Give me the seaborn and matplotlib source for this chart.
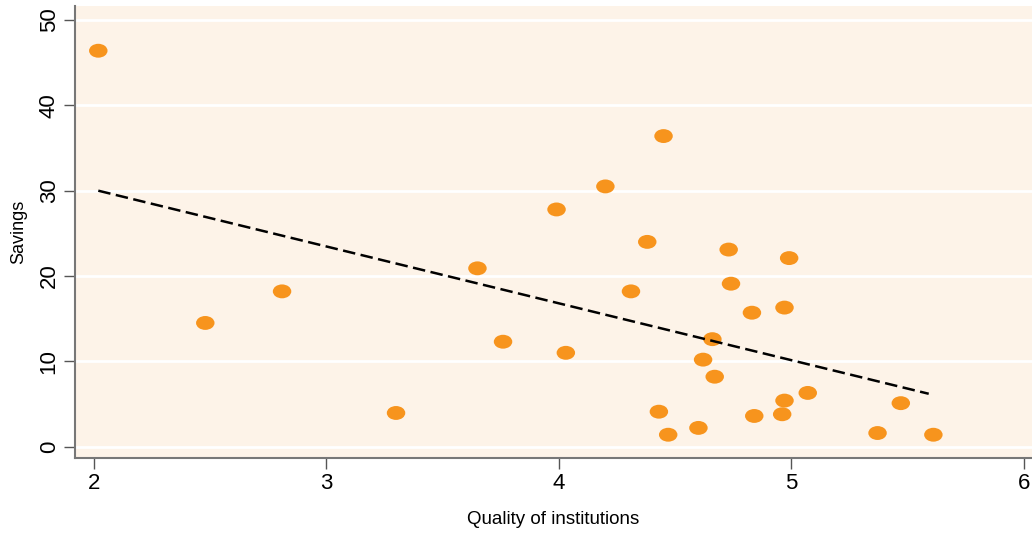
import numpy as np
import pandas as pd
import matplotlib
matplotlib.use("Agg")
import matplotlib.pyplot as plt
import seaborn as sns
from matplotlib.markers import MarkerStyle
from matplotlib.transforms import Affine2D

# data
quality = [2.02, 2.48, 2.81, 3.30, 3.65, 3.76, 3.99, 4.03, 4.20, 4.45,
           4.38, 4.31, 4.43, 4.47, 4.60, 4.73, 4.74, 4.83, 4.66, 4.62,
           4.67, 4.84, 4.96, 4.97, 4.97, 4.99, 5.07, 5.37, 5.47, 5.61]
savings = [46.4, 14.5, 18.2, 3.95, 20.9, 12.3, 27.8, 11.0, 30.5, 36.4,
           24.0, 18.2, 4.1, 1.4, 2.2, 23.1, 19.1, 15.7, 12.6, 10.2,
           8.2, 3.6, 3.8, 5.4, 16.3, 22.1, 6.3, 1.6, 5.1, 1.4]

# fitted line end points
fit_x = [2.02, 5.59]
fit_y = [30.0, 6.2]

df = pd.DataFrame({"quality": quality, "savings": savings})
fit = pd.DataFrame({"quality": fit_x, "savings": fit_y})

sns.set_style("white")
plt.rcParams['font.family'] = ['Liberation Sans', 'DejaVu Sans']

fig = plt.figure(figsize=(10.32, 5.33), dpi=100)
ax = fig.add_axes([0.0727, 0.1413, 0.9273, 0.8474])
ax.set_facecolor("#FDF3E8")

for v in [0, 10, 20, 30, 40, 50]:
    ax.axhline(v, color="white", lw=2, zorder=0)

oval = MarkerStyle("o", transform=Affine2D().scale(1.33, 1.0))
sns.scatterplot(data=df, x="quality", y="savings", ax=ax, marker=oval,
                s=100, color="#F7941D", edgecolor="none", zorder=3)
sns.lineplot(data=fit, x="quality", y="savings", ax=ax, color="black",
             lw=1.8, zorder=4)
ax.lines[-1].set_dashes([5, 2.2])

ax.set_xlim(1.92, 6.034)
ax.set_ylim(-1.29, 51.64)
ax.set_xticks([2, 3, 4, 5, 6])
ax.set_yticks([0, 10, 20, 30, 40, 50])
ax.tick_params(axis="y", labelrotation=90, length=8, width=1, color="#555555",
               labelsize=16, labelcolor="black", pad=3, left=True)
ax.tick_params(axis="x", length=8, width=1, color="#555555", labelsize=16,
               labelcolor="black", pad=3, bottom=True)
for lab in ax.get_yticklabels():
    lab.set_va("center")

ax.set_xlabel("Quality of institutions", fontsize=13.5, labelpad=12, color="black")
ax.set_ylabel("Savings", fontsize=13, labelpad=8, color="black")

for s in ["top", "right"]:
    ax.spines[s].set_visible(False)
for s in ["left", "bottom"]:
    ax.spines[s].set_color("#777777")
    ax.spines[s].set_linewidth(1.5)

fig.savefig("out.png", dpi=100)
